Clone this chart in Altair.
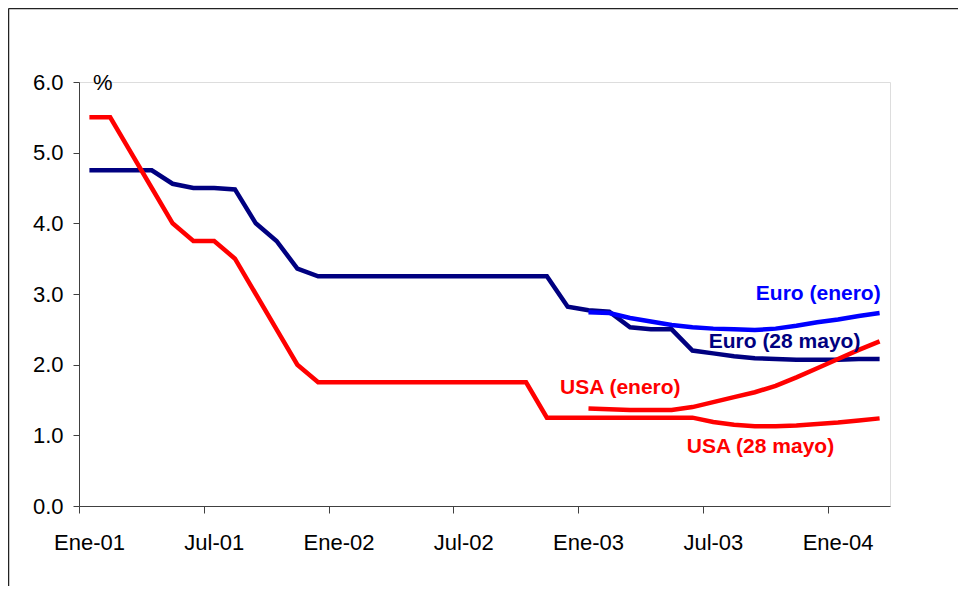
import altair as alt
import pandas as pd

# Month index 0 = Ene-01 ... 38 = Mar-04 (points drawn at mid-month)
usa = [5.5, 5.5, 5.0, 4.5, 4.0, 3.75, 3.75, 3.5, 3.0, 2.5, 2.0, 1.75,
       1.75, 1.75, 1.75, 1.75, 1.75, 1.75, 1.75, 1.75, 1.75, 1.75,
       1.25, 1.25, 1.25, 1.25, 1.25, 1.25, 1.25,
       1.25, 1.19, 1.15, 1.13, 1.13, 1.14, 1.16, 1.18, 1.21, 1.24]
euro = [4.75, 4.75, 4.75, 4.75, 4.56, 4.5, 4.5, 4.48, 4.0, 3.75, 3.36, 3.25,
        3.25, 3.25, 3.25, 3.25, 3.25, 3.25, 3.25, 3.25, 3.25, 3.25, 3.25,
        2.82, 2.77, 2.75, 2.53, 2.5, 2.5, 2.2, 2.16, 2.12, 2.09, 2.08, 2.07,
        2.07, 2.07, 2.08, 2.08]
fwd_start = 24
euro_enero = [2.74, 2.73, 2.66, 2.61, 2.56, 2.53, 2.51, 2.50, 2.49, 2.51,
              2.55, 2.60, 2.64, 2.69, 2.73]
usa_enero = [1.38, 1.37, 1.36, 1.36, 1.36, 1.40, 1.47, 1.54, 1.61, 1.70,
             1.82, 1.95, 2.08, 2.21, 2.33]

tick_months = [0, 6, 12, 18, 24, 30, 36]
tick_labels = ["Ene-01", "Jul-01", "Ene-02", "Jul-02", "Ene-03", "Jul-03", "Ene-04"]

label_text = ["Euro (enero)", "Euro (28 mayo)", "USA (enero)", "USA (28 mayo)"]
label_x = [38.55, 33.93, 26.03, 32.77]
label_y = [2.91, 2.23, 1.59, 0.75]
label_align = ["right", "center", "center", "center"]
label_color = ["#0000FF", "#000080", "#FF0000", "#FF0000"]

RED, NAVY, BLUE = "#FF0000", "#000080", "#0000FF"

rows = []
def add(name, color, order, start, vals):
    for k, v in enumerate(vals):
        rows.append({"series": name, "color": color, "ord": order,
                     "m": start + k + 0.5, "v": v})

add("Euro (28 mayo)", NAVY, 0, 0, euro)
add("Euro (enero)", BLUE, 1, fwd_start, euro_enero)
add("USA (28 mayo)", RED, 2, 0, usa)
add("USA (enero)", RED, 3, fwd_start, usa_enero)
df = pd.DataFrame(rows)

lab = pd.DataFrame({"t": label_text, "m": label_x, "v": label_y,
                    "a": label_align, "c": label_color})

FONT = "Liberation Sans"
label_expr = " : ".join(
    [f"datum.value == {m} ? '{l}'" for m, l in zip(tick_months, tick_labels)]
) + " : ''"

x_scale = alt.Scale(domain=[0, 39], nice=False, zero=False)
y_scale = alt.Scale(domain=[0, 6], nice=False)

x_axis = alt.Axis(values=tick_months, labelExpr=label_expr, title=None,
                  grid=False, tickSize=7, labelOffset=10, labelPadding=19,
                  labelFont=FONT, labelFontSize=22, labelColor="#000000",
                  domainColor="#404040", tickColor="#404040",
                  labelFlush=False, labelOverlap=False)
y_axis = alt.Axis(values=[0, 1, 2, 3, 4, 5, 6], format=".1f", title=None,
                  grid=False, tickSize=6, labelPadding=10,
                  labelFont=FONT, labelFontSize=22, labelColor="#000000",
                  domainColor="#404040", tickColor="#404040")

lines = alt.Chart(df).mark_line(strokeWidth=4.5, strokeJoin="miter",
                                strokeCap="butt").encode(
    x=alt.X("m:Q", scale=x_scale, axis=x_axis),
    y=alt.Y("v:Q", scale=y_scale, axis=y_axis),
    color=alt.Color("color:N", scale=None),
    detail="series:N",
    order=alt.Order("m:Q"),
)

layers = [lines]
for i in range(len(label_text)):
    layers.append(
        alt.Chart(lab.iloc[[i]]).mark_text(
            font=FONT, fontSize=21, fontWeight="bold",
            align=label_align[i], baseline="alphabetic",
            color=label_color[i]
        ).encode(x=alt.X("m:Q", scale=x_scale),
                 y=alt.Y("v:Q", scale=y_scale),
                 text="t:N")
    )

pct = alt.Chart(pd.DataFrame({"m": [0.67], "v": [5.89], "t": ["%"]})).mark_text(
    font=FONT, fontSize=22, align="left", baseline="alphabetic", color="#000000"
).encode(x=alt.X("m:Q", scale=x_scale), y=alt.Y("v:Q", scale=y_scale), text="t:N")
layers.append(pct)

# outer frame (top and left edges of the original picture's border)
frame_top = alt.Chart(pd.DataFrame({"a": [0]})).mark_rule(
    color="#222222", strokeWidth=1.5).encode(
    x=alt.value(-70.5), x2=alt.value(880), y=alt.value(-73.5))
frame_left = alt.Chart(pd.DataFrame({"a": [0]})).mark_rule(
    color="#222222", strokeWidth=1.5).encode(
    x=alt.value(-70.5), y=alt.value(-73.5), y2=alt.value(505))
layers += [frame_top, frame_left]

chart = alt.layer(*layers).properties(
    width=811, height=424,
    autosize=alt.AutoSizeParams(type="none"),
    padding={"left": 71, "top": 74, "right": 68, "bottom": 80},
).configure_view(stroke=None).configure(background="#FFFFFF")

chart.save("out.html", embed_options={"renderer": "svg", "actions": False})
